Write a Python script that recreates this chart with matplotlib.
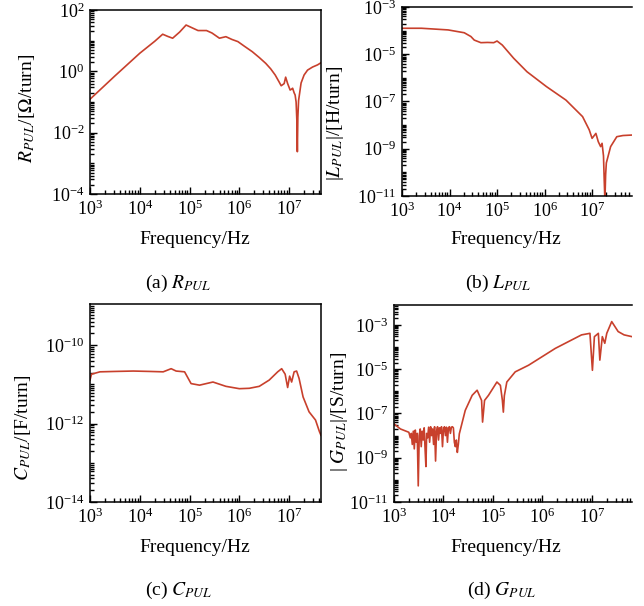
import numpy as np
import matplotlib
matplotlib.use("Agg")
import matplotlib.pyplot as plt
from matplotlib.ticker import FixedLocator, LogLocator, LogFormatterSciNotation, NullFormatter

plt.rcParams["font.family"] = ["Liberation Serif", "DejaVu Serif"]
plt.rcParams["mathtext.fontset"] = "stix"

# values, kept as log10 exponents
# (a) R_PUL
r_freq_exp = [3.0, 3.5, 4.0, 4.3, 4.46, 4.56, 4.66, 4.8, 4.93, 5.05, 5.17, 5.34, 5.45,
              5.6, 5.73, 5.85, 5.97, 6.1, 6.26, 6.4, 6.53, 6.63, 6.72, 6.8, 6.84, 6.9,
              6.93, 6.97, 7.02, 7.05, 7.07, 7.1, 7.12, 7.14, 7.155, 7.165, 7.175, 7.19,
              7.24, 7.3, 7.37, 7.47, 7.57, 7.64]
r_val_exp = [-0.91, -0.15, 0.59, 0.98, 1.21, 1.14, 1.08, 1.28, 1.51, 1.42, 1.33, 1.33, 1.25,
             1.08, 1.13, 1.04, 0.97, 0.82, 0.64, 0.45, 0.26, 0.08, -0.12, -0.35, -0.47, -0.4,
             -0.19, -0.4, -0.61, -0.58, -0.55, -0.7, -0.77, -1.0, -1.6, -2.62, -1.5, -0.95,
             -0.38, -0.12, 0.04, 0.14, 0.21, 0.28]

# (b) |L_PUL|
l_freq_exp = [3.0, 3.41, 3.97, 4.31, 4.45, 4.52, 4.66, 4.8, 4.93, 5.0, 5.11, 5.35, 5.63,
              6.04, 6.45, 6.8, 6.94, 7.0, 7.08, 7.13, 7.18, 7.21, 7.24, 7.255, 7.27, 7.285,
              7.3, 7.39, 7.52, 7.65, 7.84]
l_val_exp = [-3.9, -3.9, -3.97, -4.09, -4.25, -4.4, -4.51, -4.5, -4.51, -4.44, -4.61, -5.17,
             -5.74, -6.37, -6.94, -7.64, -8.2, -8.56, -8.35, -8.7, -8.91, -8.77, -9.3, -10.3,
             -11.2, -10.1, -9.6, -8.91, -8.49, -8.44, -8.42]

# (c) C_PUL
c_freq_exp = [3.0, 3.03, 3.2, 3.5, 3.87, 4.2, 4.47, 4.63, 4.73, 4.9, 5.03, 5.2, 5.47, 5.73,
              6.0, 6.2, 6.4, 6.6, 6.77, 6.85, 6.92, 6.97, 7.01, 7.05, 7.1, 7.15, 7.2, 7.28,
              7.4, 7.53, 7.61, 7.64]
c_val_exp = [-10.89, -10.74, -10.68, -10.67, -10.66, -10.67, -10.68, -10.6, -10.66, -10.68,
             -10.98, -11.02, -10.94, -11.05, -11.11, -11.1, -11.05, -10.89, -10.68, -10.6,
             -10.74, -11.08, -10.79, -10.94, -10.68, -10.66, -10.85, -11.32, -11.7, -11.91,
             -12.21, -12.3]

# (d) |G_PUL|
g_freq_exp = [3.0, 3.13, 3.3, 3.33, 3.35, 3.37, 3.39, 3.41, 3.43, 3.45, 3.47, 3.49, 3.51,
              3.53, 3.55, 3.57, 3.59, 3.61, 3.63, 3.645, 3.66, 3.68, 3.7, 3.72, 3.74, 3.76,
              3.78, 3.8, 3.82, 3.84, 3.86, 3.88, 3.9, 3.92, 3.94, 3.96, 3.98, 4.0, 4.02,
              4.04, 4.06, 4.08, 4.1, 4.12, 4.14, 4.16, 4.18, 4.2, 4.22, 4.24, 4.26, 4.28,
              4.3, 4.32, 4.44, 4.58, 4.68, 4.77, 4.79, 4.83, 4.91, 5.08, 5.15, 5.19, 5.21,
              5.23, 5.28, 5.45, 5.72, 6.26, 6.79, 6.96, 7.01, 7.05, 7.13, 7.16, 7.21, 7.26,
              7.3, 7.4, 7.53, 7.65, 7.81]
g_val_exp = [-7.47, -7.7, -7.85, -8.1, -7.9, -8.4, -7.8, -8.6, -7.75, -8.3, -7.9, -10.27, -8.0,
             -7.7, -8.5, -7.8, -8.2, -7.65, -8.7, -9.4, -7.9, -8.1, -7.62, -8.3, -7.6, -8.0,
             -7.7, -8.4, -7.6, -9.15, -7.8, -7.6, -8.2, -7.65, -7.9, -7.6, -8.5, -7.7, -7.6,
             -8.0, -7.62, -8.3, -7.65, -7.6, -7.9, -7.62, -7.6, -7.65, -8.3, -8.5, -8.2,
             -8.76, -8.4, -7.92, -6.86, -6.18, -5.95, -6.41, -7.39, -6.41, -6.18, -5.58,
             -5.73, -6.4, -6.94, -6.2, -5.58, -5.12, -4.82, -4.06, -3.45, -3.38, -5.05,
             -3.53, -3.38, -4.59, -3.53, -3.83, -3.38, -2.85, -3.3, -3.45, -3.53]

panels = [
    # (freq exps, value exps, box px (l, t, r, b), ylim exps, yticks exps, xmax exp, ylabel, caption, right spine)
    (r_freq_exp, r_val_exp, (90, 10, 321, 194), (-4, 2), [-4, -2, 0, 2], 7.64,
     r"$R_{PUL}$/[$\Omega$/turn]", r"(a) $R_{PUL}$", True),
    (l_freq_exp, l_val_exp, (402, 7, 632, 196), (-11, -3), [-11, -9, -7, -5, -3], 7.84,
     r"|$L_{PUL}$|/[H/turn]", r"(b) $L_{PUL}$", False),
    (c_freq_exp, c_val_exp, (90, 304, 321, 502), (-14, -8.95), [-14, -12, -10], 7.64,
     r"$C_{PUL}$/[F/turn]", r"(c) $C_{PUL}$", True),
    (g_freq_exp, g_val_exp, (394, 305, 632, 502), (-11, -2.1), [-11, -9, -7, -5, -3], 7.81,
     r"| $G_{PUL}$|/[S/turn]", r"(d) $G_{PUL}$", False),
]

# label positions in pixels: xlabel center, caption center, ylabel center
label_px = [
    ((195, 240), (178, 283), (27, 108)),
    ((506, 240), (498, 283), (335, 123)),
    ((195, 547), (179, 590), (23, 428)),
    ((506, 547), (502, 590), (339, 412)),
]

W, H = 644, 606
fig = plt.figure(figsize=(W / 100, H / 100), dpi=100)
line_color = "#c8402c"

for (fx, vy, box, ylim, yt, xmax, ylab, cap, rspine), (xl, cp, yl) in zip(panels, label_px):
    l, t, r, b = box
    ax = fig.add_axes([l / W, 1 - b / H, (r - l) / W, (b - t) / H])
    ax.plot(10 ** np.array(fx), 10 ** np.array(vy), color=line_color, lw=1.2)
    ax.set_xscale("log")
    ax.set_yscale("log")
    ax.set_xlim(1e3, 10 ** xmax)
    ax.set_ylim(10 ** ylim[0], 10 ** ylim[1])

    ax.xaxis.set_major_locator(FixedLocator([1e3, 1e4, 1e5, 1e6, 1e7]))
    ax.xaxis.set_minor_locator(LogLocator(base=10, subs=np.arange(2, 10), numticks=50))
    ax.xaxis.set_major_formatter(LogFormatterSciNotation())
    ax.xaxis.set_minor_formatter(NullFormatter())

    ax.yaxis.set_major_locator(FixedLocator([10.0 ** e for e in yt]))
    ax.yaxis.set_minor_locator(LogLocator(base=10, subs=np.arange(1, 10), numticks=50))
    ax.yaxis.set_major_formatter(LogFormatterSciNotation())
    ax.yaxis.set_minor_formatter(NullFormatter())

    ax.tick_params(which="both", direction="in", top=False, right=False, labelsize=13, width=1.0)
    ax.tick_params(which="major", length=5, pad=4)
    ax.tick_params(which="minor", length=3)
    for s in ax.spines.values():
        s.set_linewidth(1.1)
    ax.spines["right"].set_visible(rspine)

    fig.text(xl[0] / W, 1 - xl[1] / H, "Frequency/Hz", ha="center", va="center", fontsize=14)
    fig.text(cp[0] / W, 1 - cp[1] / H, cap, ha="center", va="center", fontsize=14)
    fig.text(yl[0] / W, 1 - yl[1] / H, ylab, ha="center", va="center", rotation=90, fontsize=14)

fig.savefig("out.png", dpi=100)
